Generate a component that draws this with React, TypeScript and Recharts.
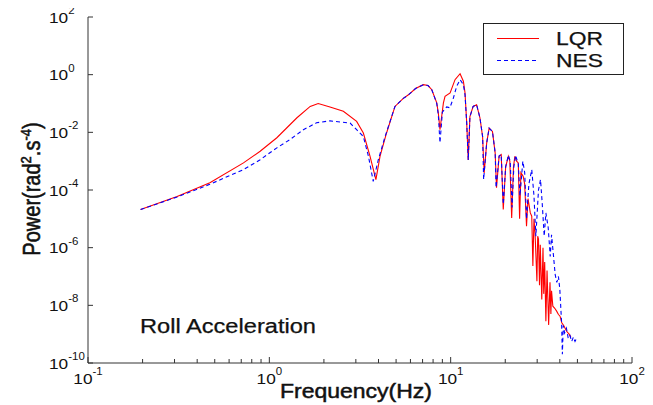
import React from 'react';
import { LineChart, Line, XAxis, YAxis } from 'recharts';

// LQR (red, solid)
const lqrFreq = [
  0.195, 0.31, 0.47, 0.72, 0.89, 1.1, 1.42, 1.68, 1.86, 2.16, 2.56, 3.03, 3.3, 3.59, 3.87, 4.08, 4.43,
  4.93, 5.48, 5.85, 6.4, 7.07, 7.5, 7.87, 8.38, 8.55, 8.73, 9.12, 9.31, 9.93, 10.57, 11.27, 11.75, 12.0,
  12.26, 12.5, 12.77, 13.3, 13.9, 14.5, 15.0, 15.3, 15.8, 16.3, 17.0, 17.6, 17.9, 18.5, 19.0, 19.5, 20.1,
  20.8, 21.2, 21.7, 22.2, 22.6, 23.1, 23.6, 24.0, 24.4, 25.1, 25.6, 26.2, 26.7, 27.5, 28.0, 28.4, 28.8,
  29.2, 29.9, 30.2, 30.5, 30.9, 31.2, 31.8, 32.3, 32.6, 33.0, 33.5, 34.0, 34.7, 35.3, 35.7, 36.0, 36.6,
  37.5, 38.4, 39.3, 40.1, 41.0, 42.0, 43.6, 45.0, 46.0,
];
const lqrPower = [
  2.1e-5, 6.0e-5, 1.78e-4, 8.7e-4, 2.2e-3, 6.5e-3, 3.2e-2, 7.9e-2, 0.1, 7.6e-2, 5.4e-2, 2.4e-2, 9.5e-3, 1.5e-3, 2.3e-4, 1.5e-3, 9.5e-3,
  7.9e-2, 0.15, 0.2, 0.33, 0.45, 0.42, 0.3, 0.105, 0.047, 0.0123, 0.105, 0.178, 0.234, 0.67, 1.08, 0.59, 0.234,
  0.021, 0.0011, 0.035, 0.079, 0.091, 0.032, 0.0072, 3.9e-4, 4.3e-3, 0.014, 0.0107, 1.9e-3, 1.2e-4, 1.5e-3, 1.7e-3, 2.1e-5, 6.3e-4,
  1.48e-3, 1.0e-3, 1.07e-5, 6.3e-4, 1.48e-3, 1.0e-3, 8.7e-4, 1.0e-5, 4.0e-4, 3.0e-4, 1.6e-4, 5.5e-6, 5.0e-5, 1.6e-5, 1.23e-5, 2.3e-7, 1.0e-5,
  3.2e-6, 6.9e-8, 2.5e-6, 2.0e-6, 5.0e-8, 1.26e-6, 1.6e-8, 1.0e-6, 2.5e-8, 3.2e-7, 2.8e-9, 1.6e-7, 2.1e-9, 6.3e-8, 5.0e-9, 3.2e-8, 9.3e-9,
  7.9e-9, 6.3e-9, 4.8e-9, 4.2e-9, 2.5e-9, 2.0e-9, 1.26e-9, 1.0e-9, 7.9e-10,
];

// NES (blue, dashed)
const nesFreq = [
  0.195, 0.31, 0.47, 0.72, 0.89, 1.1, 1.3, 1.54, 1.82, 2.16, 2.79, 3.03, 3.3, 3.52, 3.74, 3.99, 4.35,
  4.93, 5.48, 5.85, 6.4, 7.07, 7.5, 7.87, 8.38, 8.55, 8.73, 9.0, 9.5, 9.9, 10.35, 10.8, 11.27, 11.75, 12.0,
  12.26, 12.5, 12.77, 13.3, 13.9, 14.5, 15.0, 15.2, 15.8, 16.3, 17.0, 17.6, 17.8, 18.5, 19.0, 19.5, 20.1,
  20.8, 21.3, 21.8, 22.3, 22.8, 23.6, 24.1, 25.0, 25.6, 26.2, 27.0, 28.0, 28.8, 29.5, 30.5, 31.3, 32.0,
  32.8, 33.5, 34.5, 35.4, 36.0, 36.8, 37.7, 38.5, 39.3, 40.0, 40.9, 41.3, 41.8, 42.5, 43.5, 44.5, 45.5,
  46.5, 47.5, 48.5, 49.6,
];
const nesPower = [
  2.1e-5, 5.75e-5, 1.58e-4, 5.1e-4, 1.12e-3, 2.9e-3, 5.6e-3, 1.23e-2, 2.14e-2, 2.5e-2, 2.1e-2, 1.23e-2, 7.2e-3, 1.48e-3, 2.0e-4, 1.12e-3, 7.2e-3,
  7.9e-2, 0.15, 0.2, 0.33, 0.45, 0.42, 0.3, 0.1, 0.04, 4.3e-3, 5.0e-2, 7.6e-2, 7.1e-2, 0.155, 0.4, 0.67, 0.45, 0.2,
  0.021, 1.1e-3, 0.035, 0.079, 0.091, 0.032, 0.0072, 2.3e-4, 4.3e-3, 0.014, 0.0107, 1.9e-3, 1.2e-4, 1.5e-3, 1.7e-3, 3.2e-5, 6.3e-4,
  1.6e-3, 1.0e-3, 2.5e-5, 6.3e-4, 1.6e-3, 7.9e-4, 6.3e-5, 1.0e-3, 4.0e-4, 1.0e-5, 1.6e-4, 5.1e-4, 6.3e-5, 2.5e-6, 1.0e-4, 2.3e-4, 3.2e-5,
  2.5e-6, 1.6e-5, 5.0e-6, 5.0e-7, 2.8e-6, 6.3e-7, 1.17e-7, 6.3e-8, 1.0e-7, 3.5e-8, 2.5e-9, 2.0e-10, 2.0e-9, 1.1e-9, 1.6e-9, 7.1e-10, 8.9e-10,
  5.6e-10, 7.9e-10, 5.6e-10, 7.4e-10,
];

const xTicks = [
  0.1, 0.2, 0.3, 0.4, 0.5, 0.6, 0.7, 0.8, 0.9,
  1, 2, 3, 4, 5, 6, 7, 8, 9,
  10, 20, 30, 40, 50, 60, 70, 80, 90, 100,
];
const yTicks = [1e-10, 1e-8, 1e-6, 1e-4, 1e-2, 1, 100];
const xDomain = [0.1, 100];
const yDomain = [1e-10, 100];

const seriesNames = ['LQR', 'NES'];
const seriesColors = ['#ff0000', '#0000ff'];

const lqrData = lqrFreq.map((f, i) => ({ f, p: lqrPower[i] }));
const nesData = nesFreq.map((f, i) => ({ f, p: nesPower[i] }));

const FONT = '"Liberation Sans", Arial, sans-serif';
const AXIS = '#333333';
const INK = '#111111';
const SX = 1.15;

const expOf = (v: number) => {
  const l = Math.log10(v);
  const e = Math.round(l);
  return { e, major: Math.abs(l - e) < 1e-6 };
};

const BottomTick = (props: any) => {
  const { x, y, payload } = props;
  const { e, major } = expOf(payload.value);
  return (
    <g>
      <line x1={x} x2={x} y1={y} y2={y - (major ? 6 : 4)} stroke={AXIS} strokeWidth={1} />
      {major && (
        <g transform={`translate(${x},${y + 21}) scale(${SX},1)`}>
          <text x={0} y={0} textAnchor="middle" fontFamily={FONT} fontSize={15} fill={INK}>
            10<tspan dy={-9} fontSize={10}>{e}</tspan>
          </text>
        </g>
      )}
    </g>
  );
};

const TopTick = (props: any) => {
  const { x, y, payload } = props;
  const { major } = expOf(payload.value);
  return <line x1={x} x2={x} y1={y} y2={y + (major ? 6 : 4)} stroke={AXIS} strokeWidth={1} />;
};

const LeftTick = (props: any) => {
  const { x, y, payload } = props;
  const { e } = expOf(payload.value);
  return (
    <g>
      <line x1={x} x2={x + 5} y1={y} y2={y} stroke={AXIS} strokeWidth={1} />
      <g transform={`translate(${x - 39},${y + 5.5}) scale(${SX},1)`}>
        <text x={0} y={0} textAnchor="start" fontFamily={FONT} fontSize={15} fill={INK}>
          10<tspan dy={-8.5} fontSize={10}>{e}</tspan>
        </text>
      </g>
    </g>
  );
};

const RightTick = (props: any) => {
  const { x, y } = props;
  return <line x1={x} x2={x - 5} y1={y} y2={y} stroke={AXIS} strokeWidth={1} />;
};

const LegendBox = () => (
  <svg width={141} height={52} style={{ display: 'block' }}>
    <rect x={0.5} y={0.5} width={140} height={51} fill="#fff" stroke="#222" strokeWidth={1} />
    {seriesNames.map((name, i) => (
      <g key={name}>
        <line
          x1={14}
          x2={56}
          y1={15.5 + i * 22}
          y2={15.5 + i * 22}
          stroke={seriesColors[i]}
          strokeWidth={1.2}
          strokeDasharray={i === 1 ? '4 3' : undefined}
        />
        <text
          x={73}
          y={22 + i * 22}
          fontFamily={FONT}
          fontSize={18}
          fill={INK}
          stroke={INK}
          strokeWidth={0.25}
          textLength={47}
          lengthAdjust="spacingAndGlyphs"
        >
          {name}
        </text>
      </g>
    ))}
  </svg>
);

export default function App() {
  return (
    <div style={{ position: 'relative', width: 653, height: 405, marginTop: -8, marginLeft: -8, background: '#fff' }}>
      <LineChart width={653} height={405} margin={{ top: 17, right: 21, bottom: 0, left: 0 }}>
        <XAxis
          xAxisId={0}
          type="number"
          dataKey="f"
          scale="log"
          domain={xDomain}
          allowDataOverflow
          ticks={xTicks}
          interval={0}
          tickLine={false}
          tickSize={0}
          tickMargin={0}
          height={42}
          axisLine={{ stroke: AXIS, strokeWidth: 1 }}
          tick={<BottomTick />}
        />
        <XAxis
          xAxisId="top"
          orientation="top"
          type="number"
          dataKey="f"
          scale="log"
          domain={xDomain}
          allowDataOverflow
          ticks={xTicks}
          interval={0}
          tickLine={false}
          tickSize={0}
          tickMargin={0}
          height={0}
          axisLine={{ stroke: AXIS, strokeWidth: 1 }}
          tick={<TopTick />}
        />
        <YAxis
          yAxisId={0}
          type="number"
          scale="log"
          domain={yDomain}
          allowDataOverflow
          ticks={yTicks}
          interval={0}
          tickLine={false}
          tickSize={0}
          tickMargin={0}
          width={88}
          axisLine={{ stroke: AXIS, strokeWidth: 1 }}
          tick={<LeftTick />}
        />
        <YAxis
          yAxisId="right"
          orientation="right"
          type="number"
          scale="log"
          domain={yDomain}
          allowDataOverflow
          ticks={yTicks}
          interval={0}
          tickLine={false}
          tickSize={0}
          tickMargin={0}
          width={0}
          axisLine={{ stroke: AXIS, strokeWidth: 1 }}
          tick={<RightTick />}
        />
        <Line
          name={seriesNames[0]}
          data={lqrData}
          dataKey="p"
          xAxisId={0}
          yAxisId={0}
          type="linear"
          stroke={seriesColors[0]}
          strokeWidth={1.1}
          dot={false}
          activeDot={false}
          isAnimationActive={false}
        />
        <Line
          name={seriesNames[1]}
          data={nesData}
          dataKey="p"
          xAxisId={0}
          yAxisId={0}
          type="linear"
          stroke={seriesColors[1]}
          strokeWidth={1.1}
          strokeDasharray="4 3"
          dot={false}
          activeDot={false}
          isAnimationActive={false}
        />
      </LineChart>
      <div style={{ position: 'absolute', left: 483, top: 23 }}>
        <LegendBox />
      </div>
      <svg
        width={653}
        height={405}
        style={{ position: 'absolute', left: 0, top: 0, pointerEvents: 'none' }}
      >
        <text
          x={356}
          y={398}
          textAnchor="middle"
          fontFamily={FONT}
          fontSize={21}
          fill={INK}
          stroke={INK}
          strokeWidth={0.5}
          textLength={152}
          lengthAdjust="spacingAndGlyphs"
        >
          Frequency(Hz)
        </text>
        <text
          x={140}
          y={333}
          fontFamily={FONT}
          fontSize={19.5}
          fill={INK}
          stroke={INK}
          strokeWidth={0.25}
          textLength={176}
          lengthAdjust="spacingAndGlyphs"
        >
          Roll Acceleration
        </text>
        <g transform={`translate(40,189) scale(${SX},1) rotate(-90)`}>
          <text
            x={0}
            y={0}
            textAnchor="middle"
            fontFamily={FONT}
            fontSize={20}
            fill={INK}
            stroke={INK}
            strokeWidth={0.5}
          >
            Power(rad<tspan dy={-8} fontSize={13}>2</tspan>
            <tspan dy={8}>.s</tspan>
            <tspan dy={-8} fontSize={13}>-4</tspan>
            <tspan dy={8}>)</tspan>
          </text>
        </g>
      </svg>
    </div>
  );
}
